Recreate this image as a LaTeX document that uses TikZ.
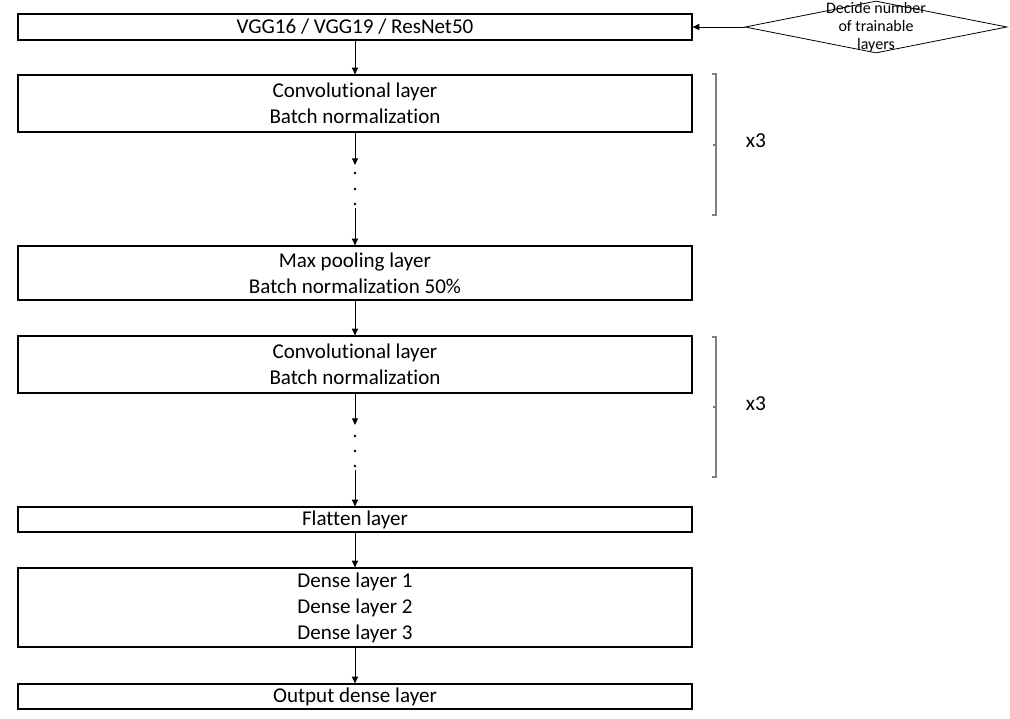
\documentclass[tikz,border=0pt]{standalone}
\usepackage{fontspec}
\setmainfont{Carlito}[Ligatures=NoCommon]
\usetikzlibrary{arrows.meta,shapes.geometric}
\tikzset{
  layer/.style={draw, line width=0.9pt, inner sep=0pt, minimum width=505.5pt,
    align=center, font=\fontsize{15.8}{19.5}\selectfont},
  flow/.style={line width=0.7pt, -{Triangle[length=5pt,width=4.5pt]}},
  brace/.style={draw=gray, line width=1pt},
}
\begin{document}
\begin{tikzpicture}[x=0.75pt, y=-0.75pt]
  \useasboundingbox (0,0) rectangle (1010,718);
  % Schichten des Netzes
  \node[layer, minimum height=19.5pt] (base) at (355,27) {VGG16 / VGG19 / ResNet50};
  \node[layer, minimum height=42.75pt] (conva) at (355,103.5) {Convolutional layer\\Batch normalization};
  \node[layer, minimum height=40.5pt] (pool) at (355,273) {Max pooling layer\\Batch normalization 50\%};
  \node[layer, minimum height=42.75pt] (convb) at (355,364.5) {Convolutional layer\\Batch normalization};
  \node[layer, minimum height=18.75pt] (flat) at (355,519.5) {Flatten layer};
  \node[layer, minimum height=59.25pt] (dense) at (355,607.5) {Dense layer 1\\Dense layer 2\\Dense layer 3};
  \node[layer, minimum height=18.75pt] (out) at (355,696.5) {Output dense layer};
  % Entscheidung
  \node[draw, shape=diamond, line width=0.6pt, inner sep=0pt, minimum width=196.5pt,
    minimum height=39pt] (decide) at (876,27) {};
  \node[align=center, font=\fontsize{12}{13.5}\selectfont] (decidetxt) at (decide.center)
    {Decide number\\of trainable\\layers};
  \draw[flow] (decide.west) -- (base.east);
  % Pfeile
  \draw[flow] (base) -- (conva);
  \coordinate (dotsa) at (355,165);
  \coordinate (dotsb) at (355,208);
  \draw[flow] (conva) -- (dotsa);
  \foreach \y in {173,189,204}
    \fill (355,\y) circle (1.4);
  \draw[flow] (dotsb) -- (pool);
  \draw[flow] (pool) -- (convb);
  \coordinate (dotsc) at (355,425);
  \coordinate (dotsd) at (355,470);
  \draw[flow] (convb) -- (dotsc);
  \foreach \y in {436,451,466}
    \fill (355,\y) circle (1.4);
  \draw[flow] (dotsd) -- (flat);
  \draw[flow] (flat) -- (dense);
  \draw[flow] (dense) -- (out);
  % Klammern x3
  \draw[brace] (712,74) -- (716,74) -- (716,215) -- (712,215);
  \fill[gray!60!black] (714,145) circle (1.2);
  \node[font=\fontsize{16}{18}\selectfont] (repa) at (756,141) {x3};
  \draw[brace] (712,337) -- (716,337) -- (716,477) -- (712,477);
  \fill[gray!60!black] (714,407) circle (1.2);
  \node[font=\fontsize{16}{18}\selectfont] (repb) at (756,404) {x3};
\end{tikzpicture}
\end{document}
